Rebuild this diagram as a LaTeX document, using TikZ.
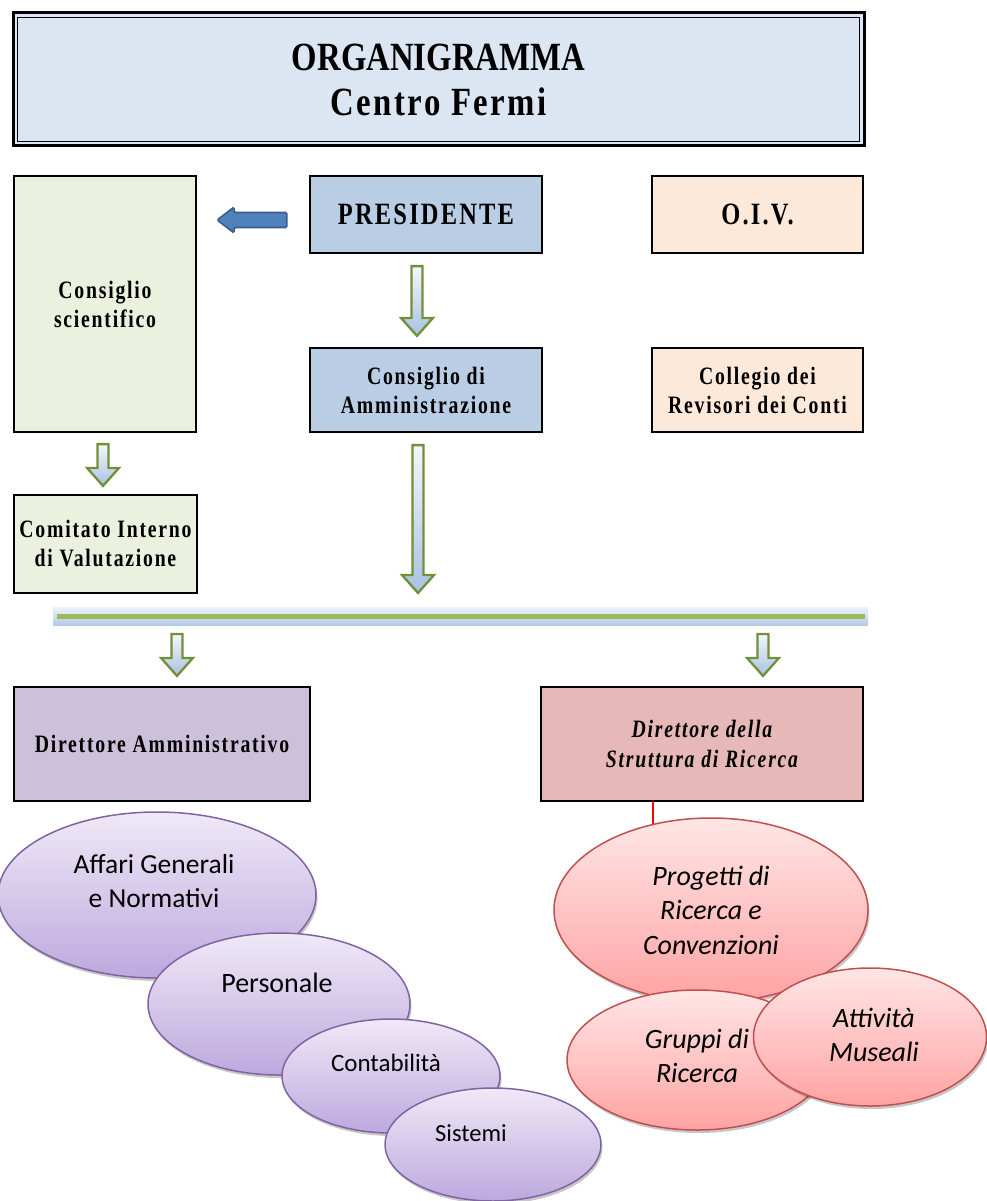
\documentclass[tikz,border=0pt]{standalone}
\usepackage{fontspec}
\usetikzlibrary{shapes.geometric,calc,shadows}
\newfontfamily\bxf[FakeStretch=0.79,LetterSpace=7]{Liberation Serif}
\newfontfamily\ttlf[FakeStretch=0.82]{Liberation Serif}
\newfontfamily\ttlsf[FakeStretch=0.82,LetterSpace=6]{Liberation Serif}
\newfontfamily\elf{Carlito}
\definecolor{cTitle}{HTML}{DCE6F2}
\definecolor{cGreenBox}{HTML}{EBF1DE}
\definecolor{cBlueBox}{HTML}{B9CDE5}
\definecolor{cPeach}{HTML}{FDE9D9}
\definecolor{cLilac}{HTML}{CCC0DA}
\definecolor{cRose}{HTML}{E6B9B8}
\definecolor{cArrG}{HTML}{71903A}
\definecolor{cArrGtop}{HTML}{F4F7FB}
\definecolor{cArrGbot}{HTML}{A9C1E1}
\definecolor{cArrB}{HTML}{4F81BD}
\definecolor{cArrBlight}{HTML}{8DB0DC}
\definecolor{cArrBdark}{HTML}{385D8A}
\definecolor{cBus}{HTML}{9BBB59}
\definecolor{cGlowTop}{HTML}{EEF3FA}
\definecolor{cGlowBot}{HTML}{B5C9E7}
\definecolor{cPtop}{HTML}{EFE9F7}
\definecolor{cPbot}{HTML}{BDA9DE}
\definecolor{cPline}{HTML}{8064A2}
\definecolor{cRtop}{HTML}{FFE6E6}
\definecolor{cRbot}{HTML}{FFA3A3}
\definecolor{cRline}{HTML}{C0504D}
\newcommand\blockdown[2]{%
  \draw[garrow] let \p1=(#1), \p2=(#2) in
    (\x1-5.5pt,\y1) -- (\x1-5.5pt,\y2+18pt) -- (\x1-16pt,\y2+18pt) -- (\x1,\y2)
    -- (\x1+16pt,\y2+18pt) -- (\x1+5.5pt,\y2+18pt) -- (\x1+5.5pt,\y1) -- cycle;}
\newcommand\blockleft[2]{%
  \draw[barrow] let \p1=(#1), \p2=(#2) in
    (\x1,\y1+7.5pt) -- (\x2+17pt,\y1+7.5pt) -- (\x2+17pt,\y1+13pt) -- (\x2,\y1)
    -- (\x2+17pt,\y1-13pt) -- (\x2+17pt,\y1-7.5pt) -- (\x1,\y1-7.5pt) -- cycle;}
\begin{document}
\begin{tikzpicture}[x=1pt,y=-1pt,
  box/.style={draw=black, line width=2.2pt, align=center, inner sep=2pt,
    font=\bxf\bfseries\fontsize{25}{29}\selectfont},
  ttlbox/.style={draw=black, line width=3pt,
    fill=cTitle, align=center, inner sep=0pt, font=\fontsize{40}{45}\selectfont\bfseries},
  ttlinner/.style={draw=black, line width=1.3pt},
  garrow/.style={draw=cArrG, line width=2.3pt, line join=miter, top color=cArrGtop, bottom color=cArrGbot},
  barrow/.style={draw=cArrBdark, line width=1.6pt, rounded corners=1.5pt, top color=cArrB, middle color=cArrBlight, bottom color=cArrB},
  busline/.style={draw=cBus, line width=5pt},
  pell/.style={ellipse, draw=cPline, line width=1.5pt, top color=cPtop, bottom color=cPbot, inner sep=0pt,
    drop shadow={shadow xshift=1.5pt, shadow yshift=-3pt, opacity=0.22, fill=black}},
  rell/.style={ellipse, draw=cRline, line width=1.5pt, top color=cRtop, bottom color=cRbot, inner sep=0pt,
    drop shadow={shadow xshift=1.5pt, shadow yshift=-3pt, opacity=0.22, fill=black}},
  etxt/.style={align=center, font=\elf\fontsize{27.5}{34}\selectfont},
  etxti/.style={align=center, font=\elf\itshape\fontsize{28}{34.5}\selectfont}
]
\useasboundingbox (0,0) rectangle (987,1201);

% title
\node[ttlbox, minimum width=851pt, minimum height=133pt] (title) at (438.5,79.5)
  {{\ttlf ORGANIGRAMMA}\\{\ttlsf Centro Fermi}};
\draw[ttlinner] ([shift={(6,6)}]title.north west) rectangle ([shift={(-6,-6)}]title.south east);

% boxes
\node[box, fill=cGreenBox, minimum width=182pt, minimum height=256pt] (cs) at (105,304) {Consiglio\\scientifico};
\node[box, fill=cBlueBox, minimum width=232pt, minimum height=77pt, font=\bxf\bfseries\fontsize{31}{34}\selectfont] (pres) at (426,214.5) {PRESIDENTE};
\node[box, fill=cPeach, minimum width=211pt, minimum height=77pt, font=\bxf\bfseries\fontsize{31}{34}\selectfont] (oiv) at (757.5,214.5) {O.I.V.};
\node[box, fill=cBlueBox, minimum width=232pt, minimum height=84pt] (cda) at (426,390) {Consiglio di\\Amministrazione};
\node[box, fill=cPeach, minimum width=211pt, minimum height=84pt] (crc) at (757.5,390) {Collegio dei\\Revisori dei Conti};
\node[box, fill=cGreenBox, minimum width=183pt, minimum height=98pt] (civ) at (105.5,544) {Comitato Interno\\di Valutazione};
\node[box, fill=cLilac, minimum width=296pt, minimum height=114pt] (dam) at (162,744) {Direttore Amministrativo};
\node[box, fill=cRose, minimum width=322pt, minimum height=114pt, font=\bxf\bfseries\itshape\fontsize{25}{30}\selectfont] (dsr) at (702,744) {Direttore della\\Struttura di Ricerca};

% blue arrow presidente -> consiglio scientifico
\coordinate (b1) at ([shift={(-22pt,-5.5pt)}]pres.west);
\coordinate (b0) at ([xshift=20pt]cs.east);
\coordinate (b2) at (b0 |- b1);
\blockleft{b1}{b2}

% green block arrows
\coordinate (a1s) at ($(pres.south)+(-9,12)$);
\coordinate (a1e) at ($(cda.north)+(-9,-11)$);
\blockdown{a1s}{a1e}
\coordinate (a3s) at ($(cs.south)+(-2,11)$);
\coordinate (a3e) at ($(civ.north)+(-2.5,-8)$);
\blockdown{a3s}{a3e}

% bus
\coordinate (busL) at (57,616);
\coordinate (busR) at (865,616);
\fill[top color=cGlowTop, bottom color=cGlowBot] ($(busL)+(-4,-9)$) rectangle ($(busR)+(3,9)$);
\draw[busline] (busL) -- (busR);

\coordinate (a2s) at ($(cda.south)+(-8,12)$);
\coordinate (a2e) at ($(busL)+(361,-23)$);
\blockdown{a2s}{a2e}
\coordinate (a4s) at ($(busL)+(120,18)$);
\coordinate (a4e) at ($(dam.north)+(15,-10)$);
\blockdown{a4s}{a4e}
\coordinate (a5s) at ($(busL)+(706,18)$);
\coordinate (a5e) at ($(dsr.north)+(61,-10)$);
\blockdown{a5s}{a5e}

% red line
\coordinate (rl) at ([xshift=-49pt]dsr.south);

% purple ellipses
\node[pell, minimum width=318pt, minimum height=166pt,
  label={[etxt, yshift=14pt, xshift=-3pt]center:{Affari Generali\\e Normativi}}] (aff) at (157,895) {};
\node[pell, minimum width=262pt, minimum height=142pt,
  label={[etxt, font=\elf\fontsize{28}{34}\selectfont, yshift=21pt, xshift=-2pt]center:Personale}] (pers) at (279,1004) {};
\node[pell, minimum width=218pt, minimum height=114pt,
  label={[etxt, font=\elf\fontsize{25}{30}\selectfont, yshift=13pt, xshift=-5pt]center:Contabilità}] (cont) at (391,1076) {};
\node[pell, minimum width=216pt, minimum height=113pt,
  label={[etxt, font=\elf\fontsize{24.5}{30}\selectfont, yshift=11pt, xshift=-22pt]center:Sistemi}] (sist) at (493,1144.5) {};

% red ellipses
\draw[red, line width=1.8pt] (rl) -- ++(0,40);
\node[rell, minimum width=314pt, minimum height=184pt,
  label={[etxti]center:{Progetti di\\Ricerca e\\Convenzioni}}] (prog) at (711,910) {};
\node[rell, minimum width=260pt, minimum height=140pt,
  label={[etxti, yshift=4pt]center:{Gruppi di\\Ricerca}}] (grup) at (697,1060) {};
\node[rell, minimum width=233pt, minimum height=138pt,
  label={[etxti, yshift=2pt, xshift=4pt]center:{Attività\\Museali}}] (muse) at (870,1037) {};
\end{tikzpicture}
\end{document}
